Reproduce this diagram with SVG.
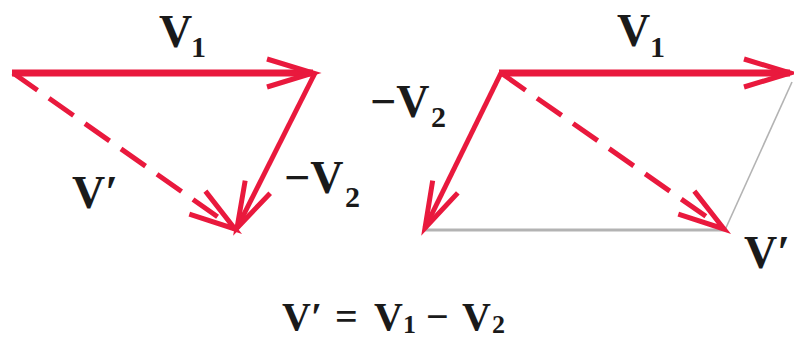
<svg xmlns="http://www.w3.org/2000/svg" width="794" height="340" viewBox="0 0 794 340">
<style>
.vec{stroke:#e9193d;fill:none;stroke-linecap:butt}
.v1{stroke-width:7}
.v2{stroke-width:5}
.vp{stroke-width:5;stroke-dasharray:30 14}
.aux{stroke:#b3b3b3;fill:none}
.lbl{font-family:"Liberation Serif","Times New Roman",serif;font-weight:bold;font-size:46px;fill:#1a1a1a}
.sub{font-size:30px}
.eq{font-size:40px}
.eqsub{font-size:26px}
</style>
<defs>
<marker id="head" viewBox="-52 -20 56 40" markerWidth="56" markerHeight="40" refX="0" refY="0" orient="auto" markerUnits="userSpaceOnUse" overflow="visible">
<path d="M-46,-14 L0,0 L-46,14" fill="none" stroke="#e9193d" stroke-width="5" stroke-dasharray="none" stroke-linejoin="miter"/>
</marker>
</defs>
<g id="connectors">
<line class="aux" x1="424" y1="230" x2="725" y2="230" stroke-width="3"/>
<line class="aux" x1="725" y1="230" x2="792" y2="82" stroke-width="1.6"/>
<line class="vec v1" x1="12" y1="73" x2="313" y2="73" marker-end="url(#head)"/>
<line class="vec v2" x1="315" y1="73" x2="237" y2="228" marker-end="url(#head)"/>
<line class="vec vp" x1="13" y1="73" x2="235" y2="229" marker-end="url(#head)"/>
<line class="vec v1" x1="499" y1="73" x2="790" y2="73" marker-end="url(#head)"/>
<line class="vec v2" x1="501" y1="73" x2="425" y2="228" marker-end="url(#head)"/>
<line class="vec vp" x1="501" y1="73" x2="724" y2="229" marker-end="url(#head)"/>
</g>
<g id="label-left-v1"><text class="lbl"><tspan x="159" y="47">V</tspan><tspan class="sub" x="191" y="57">1</tspan></text></g>
<g id="label-left-v2"><text class="lbl"><tspan x="284" y="193">−V</tspan><tspan class="sub" x="345" y="207">2</tspan></text></g>
<g id="label-left-vp"><text class="lbl"><tspan x="72" y="208">V′</tspan></text></g>
<g id="label-right-v1"><text class="lbl"><tspan x="617" y="46">V</tspan><tspan class="sub" x="650" y="57">1</tspan></text></g>
<g id="label-right-v2"><text class="lbl"><tspan x="370" y="117">−V</tspan><tspan class="sub" x="431" y="127">2</tspan></text></g>
<g id="label-right-vp"><text class="lbl"><tspan x="744" y="268">V′</tspan></text></g>
<g id="equation"><text class="lbl eq"><tspan x="282" y="330">V′</tspan><tspan x="335" y="330">=</tspan><tspan x="374" y="330">V</tspan><tspan class="eqsub" x="403" y="333">1</tspan><tspan x="426" y="330">−</tspan><tspan x="462" y="330">V</tspan><tspan class="eqsub" x="492" y="333">2</tspan></text></g>
</svg>
